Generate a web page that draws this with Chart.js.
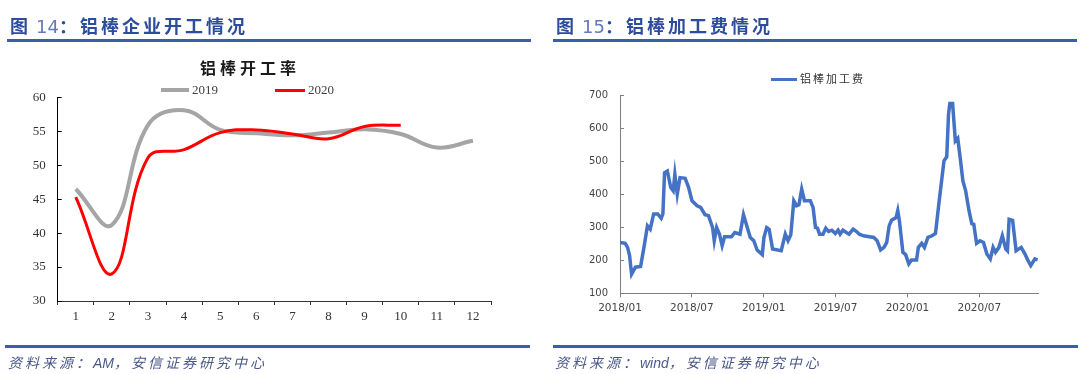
<!DOCTYPE html>
<html>
<head>
<meta charset="utf-8">
<script src="https://cdn.jsdelivr.net/npm/chart.js@4.4.0/dist/chart.umd.min.js"></script>
<style>
  body { margin: 0; width: 1080px; height: 374px; position: relative; overflow: hidden; background: #fff; font-family: "Noto Sans CJK SC", sans-serif; }
  canvas { position: absolute; top: 0; }
  .ttl { position: absolute; top: 14px; font-size: 18px; font-weight: bold; color: #2c4d9c; letter-spacing: 3px; line-height: 22px; white-space: nowrap; }
  .ttl span { font-family: "DejaVu Sans", sans-serif; font-weight: normal; color: #6677b8; letter-spacing: 0; margin-left: 5px; }
  .rule { position: absolute; height: 3px; background: #3d5da9; }
  .src { position: absolute; top: 352px; font-size: 14px; font-style: italic; color: #4a5888; letter-spacing: 3px; line-height: 20px; white-space: nowrap; }
  .src span { font-family: "Liberation Sans", sans-serif; letter-spacing: 0; }
  .ctitle { position: absolute; top: 57px; left: 200px; font-size: 16px; font-weight: bold; color: #1a1a1a; letter-spacing: 4px; line-height: 20px; white-space: nowrap; }
  .lg { position: absolute; line-height: 14px; white-space: nowrap; color: #404040; }
  .lg i { display: inline-block; vertical-align: middle; height: 3px; margin-right: 3px; margin-top: -2px; }
</style>
</head>
<body>
<canvas id="kaigong" width="540" height="374" style="left:0"></canvas>
<canvas id="jiagong" width="540" height="374" style="left:540px"></canvas>

<div class="ttl" style="left:10px">图<span>14</span>：铝棒企业开工情况</div>
<div class="ttl" style="left:556px">图<span>15</span>：铝棒加工费情况</div>
<div class="rule" style="left:7px;width:524px;top:39px"></div>
<div class="rule" style="left:553px;width:524px;top:39px"></div>
<div class="rule" style="left:5px;width:525px;top:345px"></div>
<div class="rule" style="left:553px;width:525px;top:345px"></div>
<div class="src" style="left:8px">资料来源：<span>AM</span>，安信证券研究中心</div>
<div class="src" style="left:555px">资料来源：<span>wind</span>，安信证券研究中心</div>

<div class="ctitle">铝棒开工率</div>
<div class="lg" style="left:161px;top:82px;font:13px 'Liberation Serif',serif;color:#404040"><i style="width:28px;height:4px;background:#a5a5a5"></i>2019</div>
<div class="lg" style="left:275px;top:82px;font:13px 'Liberation Serif',serif;color:#404040"><i style="width:30px;background:#ff0000"></i>2020</div>
<div class="lg" style="left:771px;top:71px;font-size:11px;letter-spacing:2px;color:#333"><i style="width:26px;background:#4472c4"></i>铝棒加工费</div>

<script>
// 铝棒开工率 (%)
var months = ['1', '2', '3', '4', '5', '6', '7', '8', '9', '10', '11', '12'];
var rate2019 = [46.5, 41.2, 55.9, 58.1, 55.2, 54.7, 54.4, 54.8, 55.3, 54.6, 52.6, 53.6];
var rate2020 = [45.3, 34.0, 51.1, 52.3, 54.8, 55.2, 54.6, 53.9, 55.7, 55.9];

// 铝棒加工费 (元/吨), x = 自 2018/01 起的月数
var feeMonth = [0.00, 0.43, 0.63, 0.80, 0.97, 1.29, 1.72, 2.00, 2.29, 2.52, 2.81, 3.15, 3.44, 3.58, 3.72, 3.95,
  4.24, 4.44, 4.58, 4.78, 5.01, 5.44, 5.73, 6.01, 6.44, 6.73, 7.10, 7.39, 7.73, 7.87, 8.07, 8.30, 8.53, 8.73,
  9.30, 9.59, 10.02, 10.31, 10.59, 10.88, 11.17, 11.45, 11.88, 12.02, 12.25, 12.45, 12.74, 13.46, 13.80, 14.03,
  14.26, 14.51, 14.74, 14.94, 15.17, 15.40, 15.89, 16.12, 16.32, 16.49, 16.66, 16.95, 17.18, 17.41, 17.69, 17.98,
  18.21, 18.38, 18.61, 18.90, 19.12, 19.47, 19.75, 19.98, 20.33, 21.19, 21.47, 21.76, 22.04, 22.27, 22.47, 22.67,
  23.05, 23.19, 23.33, 23.62, 23.85, 24.11, 24.33, 24.76, 24.91, 25.19, 25.42, 25.71, 26.05, 26.34, 26.62, 26.85,
  27.05, 27.28, 27.43, 27.54, 27.77, 28.00, 28.20, 28.40, 28.63, 28.86, 29.14, 29.37, 29.54, 29.77, 30.06, 30.35,
  30.63, 30.92, 31.15, 31.35, 31.64, 31.92, 32.21, 32.35, 32.49, 32.78, 33.07, 33.50, 33.78, 34.07, 34.30, 34.64, 34.87];
var fee = [254, 251, 239, 214, 158, 179, 181, 239, 304, 294, 340, 340, 327, 340, 465, 470,
  420, 410, 460, 400, 450, 448, 420, 380, 365, 360, 338, 335, 299, 259, 299, 279, 244, 271,
  271, 284, 279, 338, 304, 269, 259, 231, 217, 269, 299, 294, 234, 229, 279, 259,
  277, 380, 365, 368, 415, 380, 380, 360, 299, 297, 279, 279, 297, 287, 291, 281,
  291, 279, 291, 284, 279, 294, 287, 279, 274, 269, 259, 231, 239, 254, 304, 321,
  329, 350, 319, 224, 217, 189, 201, 201, 239, 251, 239, 269, 274, 281, 370, 440,
  501, 513, 642, 674, 674, 561, 569, 511, 440, 410, 350, 311, 309, 251, 259, 254,
  219, 204, 239, 224, 239, 274, 234, 229, 324, 321, 229, 239, 221, 199, 184, 204, 201];
var feeTicks = ['2018/01', '2018/07', '2019/01', '2019/07', '2020/01', '2020/07'];

// y 轴刻度线画在轴内侧
var innerTicks = {
  id: 'innerTicks',
  afterDatasetsDraw: function(chart, args, opts) {
    var y = chart.scales.y, ctx = chart.ctx;
    ctx.save();
    ctx.strokeStyle = opts.color;
    ctx.lineWidth = 1;
    y.ticks.forEach(function(t) {
      var py = Math.round(y.getPixelForValue(t.value)) + 0.5;
      ctx.beginPath();
      ctx.moveTo(y.right, py);
      ctx.lineTo(y.right + opts.length, py);
      ctx.stroke();
    });
    ctx.restore();
  }
};

new Chart(document.getElementById('kaigong').getContext('2d'), {
  type: 'line',
  data: {
    labels: months,
    datasets: [{
      label: '2020',
      data: rate2020,
      borderColor: '#ff0000',
      borderWidth: 3,
      pointRadius: 0,
      tension: 0.4,
      order: 0
    }, {
      label: '2019',
      data: rate2019,
      borderColor: '#a5a5a5',
      borderWidth: 4,
      pointRadius: 0,
      tension: 0.4,
      order: 1
    }]
  },
  options: {
    responsive: false,
    animation: false,
    devicePixelRatio: 1,
    layout: { padding: { left: 17.7, top: 97.3, right: 49, bottom: 43 } },
    plugins: {
      legend: { display: false },
      tooltip: { enabled: false },
      innerTicks: { color: '#000', length: 4 }
    },
    scales: {
      x: {
        offset: true,
        afterFit: function(s) { s.height = 30; },
        grid: { display: true, drawOnChartArea: false, offset: true, tickLength: 4, color: '#333' },
        border: { color: '#333' },
        ticks: { color: '#333', padding: 4, font: { family: 'Liberation Serif', size: 13 } }
      },
      y: {
        min: 30,
        max: 60,
        afterFit: function(s) { s.width = 40; },
        grid: { display: false, drawTicks: false },
        border: { color: '#000' },
        ticks: { stepSize: 5, color: '#333', padding: 12, font: { family: 'Liberation Serif', size: 13 } }
      }
    }
  },
  plugins: [innerTicks]
});

new Chart(document.getElementById('jiagong').getContext('2d'), {
  type: 'line',
  data: {
    datasets: [{
      label: '铝棒加工费',
      data: feeMonth.map(function(m, i) { return { x: m, y: fee[i] }; }),
      borderColor: '#4472c4',
      borderWidth: 3.5,
      pointRadius: 0,
      tension: 0
    }]
  },
  options: {
    responsive: false,
    animation: false,
    devicePixelRatio: 1,
    layout: { padding: { left: 40, top: 95, right: 42, bottom: 50.7 } },
    plugins: {
      legend: { display: false },
      tooltip: { enabled: false },
      innerTicks: { color: '#7f7f7f', length: 4 }
    },
    scales: {
      x: {
        type: 'linear',
        min: 0,
        max: 34.9,
        afterFit: function(s) { s.height = 30; },
        afterBuildTicks: function(s) { s.ticks = feeTicks.map(function(l, i) { return { value: i * 6 }; }); },
        grid: { display: true, drawOnChartArea: false, tickLength: 4, color: '#7f7f7f' },
        border: { color: '#7f7f7f' },
        ticks: {
          autoSkip: false,
          maxRotation: 0,
          color: '#444',
          padding: 5,
          font: { family: 'DejaVu Sans', size: 10.5 },
          callback: function(v) { return feeTicks[Math.round(v / 6)]; }
        }
      },
      y: {
        min: 100,
        max: 700,
        afterFit: function(s) { s.width = 40; },
        grid: { display: false, drawTicks: false },
        border: { color: '#7f7f7f' },
        ticks: { stepSize: 100, color: '#444', padding: 12, font: { family: 'DejaVu Sans', size: 10 } }
      }
    }
  },
  plugins: [innerTicks]
});
</script>
</body>
</html>
